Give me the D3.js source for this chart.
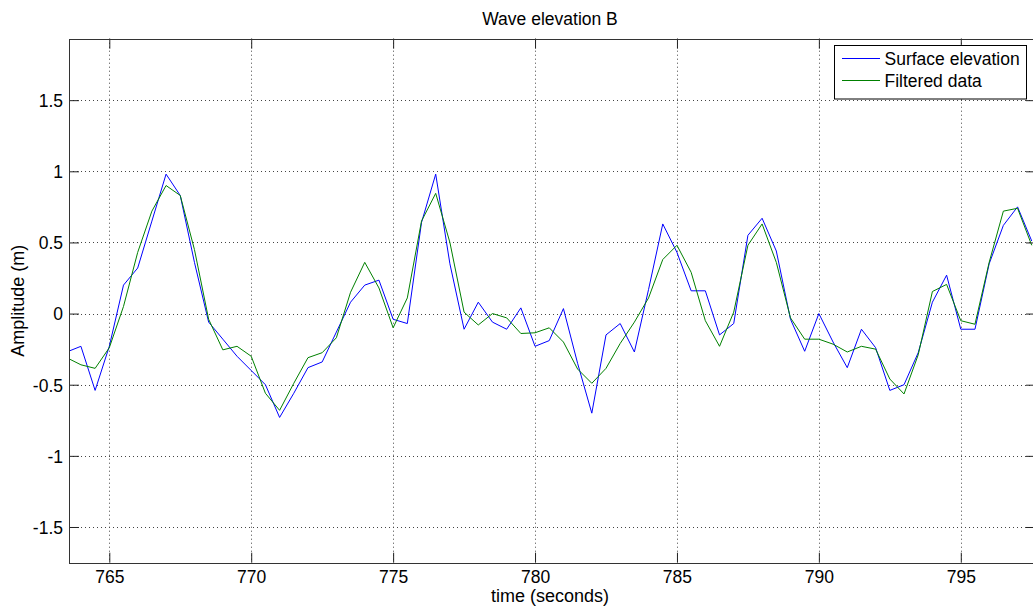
<!DOCTYPE html>
<html>
<head>
<meta charset="utf-8">
<script src="https://cdn.jsdelivr.net/npm/d3@7"></script>
<style>
  html, body { margin: 0; padding: 0; background: #fff; }
  svg { display: block; font-family: "Liberation Sans", Arial, sans-serif; }
</style>
</head>
<body>
<svg id="chart" width="1033" height="607"></svg>
<script>
// ---- Data ----
const times = [763.5, 764, 764.5, 765, 765.5, 766, 766.5, 767, 767.5, 768, 768.5, 769, 769.5, 770,
  770.5, 771, 771.5, 772, 772.5, 773, 773.5, 774, 774.5, 775, 775.5, 776, 776.5, 777, 777.5, 778,
  778.5, 779, 779.5, 780, 780.5, 781, 781.5, 782, 782.5, 783, 783.5, 784, 784.5, 785, 785.5, 786,
  786.5, 787, 787.5, 788, 788.5, 789, 789.5, 790, 790.5, 791, 791.5, 792, 792.5, 793, 793.5, 794,
  794.5, 795, 795.5, 796, 796.5, 797, 797.5];

const surfaceElevation = [-0.27, -0.23, -0.54, -0.23, 0.20, 0.32, 0.65, 0.98, 0.83, 0.36, -0.06, -0.18,
  -0.30, -0.40, -0.50, -0.73, -0.56, -0.38, -0.34, -0.13, 0.08, 0.20, 0.235, -0.04, -0.07, 0.64, 0.98,
  0.35, -0.11, 0.08, -0.06, -0.11, 0.04, -0.23, -0.19, 0.035, -0.35, -0.70, -0.15, -0.07, -0.27, 0.17,
  0.63, 0.43, 0.16, 0.16, -0.15, -0.07, 0.55, 0.67, 0.44, -0.04, -0.265, 0.00, -0.20, -0.38, -0.11,
  -0.24, -0.54, -0.50, -0.275, 0.08, 0.27, -0.11, -0.11, 0.35, 0.62, 0.75, 0.51];

const filteredData = [-0.31, -0.36, -0.385, -0.24, 0.05, 0.43, 0.72, 0.90, 0.83, 0.45, -0.04, -0.255,
  -0.23, -0.30, -0.56, -0.68, -0.49, -0.31, -0.275, -0.17, 0.15, 0.36, 0.18, -0.10, 0.11, 0.65, 0.845,
  0.50, 0.01, -0.08, 0.00, -0.03, -0.14, -0.135, -0.10, -0.20, -0.39, -0.49, -0.385, -0.21, -0.06, 0.11,
  0.38, 0.48, 0.29, -0.05, -0.23, 0.01, 0.48, 0.63, 0.36, -0.03, -0.18, -0.18, -0.215, -0.27, -0.23,
  -0.25, -0.46, -0.565, -0.29, 0.155, 0.205, -0.05, -0.075, 0.36, 0.72, 0.74, 0.48];

const xTicks = [765, 770, 775, 780, 785, 790, 795];
const yTicks = [-1.5, -1, -0.5, 0, 0.5, 1, 1.5];
const xDomain = [763.58, 797.65];
const yDomain = [-1.751, 1.932];

const seriesNames = ["Surface elevation", "Filtered data"];
const seriesColors = ["#0000ff", "#008000"];
const titleText = "Wave elevation B";
const xLabelText = "time (seconds)";
const yLabelText = "Amplitude (m)";

// ---- Layout ----
const svg = d3.select("#chart");
const L = 69, R = 1036, T = 38.7, B = 562.7;
const x = d3.scaleLinear().domain(xDomain).range([L, R]);
const y = d3.scaleLinear().domain(yDomain).range([B, T]);
const fs = 17.5;
const tickLen = 10;

// clip
svg.append("defs").append("clipPath").attr("id", "clip")
  .append("rect").attr("x", L).attr("y", T).attr("width", R - L).attr("height", B - T);

// white plot background
svg.append("rect").attr("x", L).attr("y", T).attr("width", R - L).attr("height", B - T).attr("fill", "#fff");

// grid
const grid = svg.append("g").attr("stroke", "#444").attr("stroke-width", 1).attr("stroke-dasharray", "1,3");
grid.selectAll("line.vx").data(xTicks).join("line")
  .attr("x1", d => Math.round(x(d)) + 0.5).attr("x2", d => Math.round(x(d)) + 0.5)
  .attr("y1", T).attr("y2", B);
grid.selectAll("line.hy").data(yTicks).join("line")
  .attr("y1", d => Math.round(y(d)) + 0.5).attr("y2", d => Math.round(y(d)) + 0.5)
  .attr("x1", L).attr("x2", R);

// data lines
const line = d3.line().x((d, i) => x(times[i])).y(d => y(d));
const plot = svg.append("g").attr("clip-path", "url(#clip)");
[surfaceElevation, filteredData].forEach((s, k) => {
  plot.append("path").datum(s).attr("d", line)
    .attr("fill", "none").attr("stroke", seriesColors[k]).attr("stroke-width", 1);
});

// axes using d3 axis generators (inward ticks, no labels for top/right)
const fmt = d => String(d);
const axB = svg.append("g").attr("transform", `translate(0,${B})`)
  .call(d3.axisBottom(x).tickValues(xTicks).tickSize(-tickLen).tickPadding(tickLen + 9).tickFormat(fmt));
const axT = svg.append("g").attr("transform", `translate(0,${T})`)
  .call(d3.axisTop(x).tickValues(xTicks).tickSize(-tickLen).tickFormat(""));
const axL = svg.append("g").attr("transform", `translate(${L},0)`)
  .call(d3.axisLeft(y).tickValues(yTicks).tickSize(-tickLen).tickPadding(6).tickFormat(fmt));
const axR = svg.append("g").attr("transform", `translate(${R},0)`)
  .call(d3.axisRight(y).tickValues(yTicks).tickSize(-tickLen).tickFormat(""));

[axB, axT, axL, axR].forEach(a => {
  a.select(".domain").remove();
  a.selectAll(".tick line").attr("stroke", "#222").attr("stroke-width", 1);
  a.selectAll("text").attr("font-size", fs).attr("font-family", "'Liberation Sans', Arial, sans-serif").attr("fill", "#000");
});
axB.selectAll(".tick text").attr("dy", "0.71em").attr("y", 8);
axL.selectAll(".tick text").attr("dy", "0.36em");

// frame
svg.append("rect").attr("x", L + 0.5).attr("y", Math.round(T) + 0.5)
  .attr("width", R - L).attr("height", Math.round(B) - Math.round(T))
  .attr("fill", "none").attr("stroke", "#333").attr("stroke-width", 1);

// title and labels
svg.append("text").attr("x", 550).attr("y", 25).attr("text-anchor", "middle")
  .attr("font-size", 17.5).text(titleText);
svg.append("text").attr("x", 550).attr("y", 602).attr("text-anchor", "middle")
  .attr("font-size", 18).text(xLabelText);
svg.append("text").attr("transform", `translate(24,${(T + B) / 2}) rotate(-90)`)
  .attr("text-anchor", "middle").attr("font-size", 18).text(yLabelText);

// legend
const lg = svg.append("g");
lg.append("rect").attr("x", 834.5).attr("y", 45.5).attr("width", 192).attr("height", 53.5)
  .attr("fill", "#fff").attr("stroke", "#000").attr("stroke-width", 1);
seriesNames.forEach((n, k) => {
  const ly = 58.5 + k * 22;
  lg.append("line").attr("x1", 842).attr("x2", 880).attr("y1", ly).attr("y2", ly)
    .attr("stroke", seriesColors[k]).attr("stroke-width", 1);
  lg.append("text").attr("x", 884.5).attr("y", ly + 6.5).attr("font-size", 17.5).text(n);
});
</script>
</body>
</html>
